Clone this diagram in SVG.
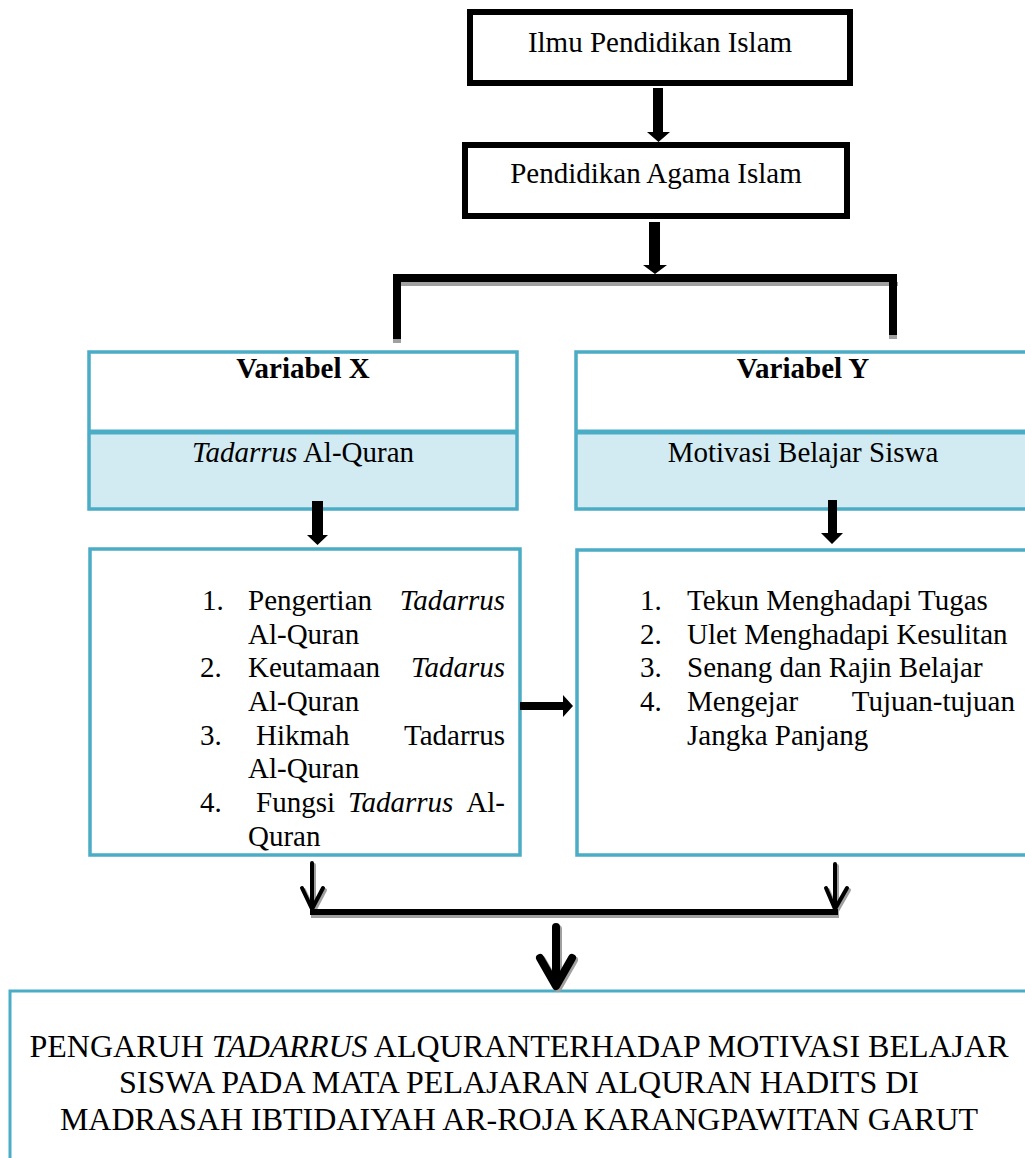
<svg xmlns="http://www.w3.org/2000/svg" width="1025" height="1158" viewBox="0 0 1025 1158">
<style>
text{font-family:"Liberation Serif","Times New Roman",serif;font-size:29px;fill:#000}
.c{text-anchor:middle}
.e{text-anchor:end}
.b{font-weight:bold}
.i{font-style:italic}
.big{font-size:32px}
.blk{fill:none;stroke:#000;stroke-width:6}
.teal{fill:none;stroke:#4BACC6;stroke-width:3.5}
.shade{fill:#D2EAF1}
.sh{fill:#A0A0A0}
.ln{fill:none;stroke:#000;stroke-linecap:round;stroke-linejoin:round}
.lns{fill:none;stroke:#A0A0A0;stroke-linecap:round;stroke-linejoin:round}
</style>
<rect width="1025" height="1158" fill="#fff"/>

<g id="node-ilmu">
<rect class="blk" x="470" y="12" width="380" height="71"/>
<text class="c" x="660" y="52">Ilmu Pendidikan Islam</text>
</g>

<g id="node-pai">
<rect class="blk" x="465" y="145" width="382" height="71"/>
<text class="c" x="656" y="183">Pendidikan Agama Islam</text>
</g>

<g id="node-varx">
<rect class="shade" x="89" y="432" width="428" height="78"/>
<rect class="teal" x="89" y="352" width="428" height="157"/>
<line x1="89" y1="432" x2="517" y2="432" stroke="#4BACC6" stroke-width="5"/>
<text class="c b" x="303" y="378">Variabel X</text>
<text class="c" x="303" y="462"><tspan class="i">Tadarrus</tspan> Al-Quran</text>
</g>

<g id="node-vary">
<rect class="shade" x="576" y="432" width="460" height="78"/>
<rect class="teal" x="576" y="352" width="460" height="157"/>
<line x1="576" y1="432" x2="1036" y2="432" stroke="#4BACC6" stroke-width="5"/>
<text class="c b" x="803" y="378">Variabel Y</text>
<text class="c" x="803" y="462">Motivasi Belajar Siswa</text>
</g>

<g id="node-listx">
<rect class="teal" x="90" y="549" width="430" height="306"/>
<text x="202" y="610">1.</text><text x="248" y="610">Pengertian</text><text class="e i" x="505" y="610">Tadarrus</text>
<text x="248" y="644">Al-Quran</text>
<text x="200" y="677">2.</text><text x="248" y="677">Keutamaan</text><text class="e i" x="505" y="677">Tadarus</text>
<text x="248" y="711">Al-Quran</text>
<text x="200" y="745">3.</text><text x="256" y="745">Hikmah</text><text class="e" x="505" y="745">Tadarrus</text>
<text x="248" y="778">Al-Quran</text>
<text x="200" y="812">4.</text><text x="256" y="812">Fungsi</text><text class="i" x="348" y="812">Tadarrus</text><text class="e" x="505" y="812">Al-</text>
<text x="248" y="846">Quran</text>
</g>

<g id="node-listy">
<rect class="teal" x="577" y="550" width="460" height="305"/>
<text x="640" y="610">1.</text><text x="687" y="610">Tekun Menghadapi Tugas</text>
<text x="640" y="644">2.</text><text x="687" y="644">Ulet Menghadapi Kesulitan</text>
<text x="640" y="677">3.</text><text x="687" y="677">Senang dan Rajin Belajar</text>
<text x="640" y="711">4.</text><text x="687" y="711">Mengejar</text><text class="e" x="1015" y="711">Tujuan-tujuan</text>
<text x="687" y="745">Jangka Panjang</text>
</g>

<g id="node-result">
<rect fill="none" stroke="#4BACC6" stroke-width="3" x="10" y="991" width="1040" height="200"/>
<text class="c big" x="519" y="1057">PENGARUH <tspan class="i">TADARRUS</tspan> ALQURANTERHADAP MOTIVASI BELAJAR</text>
<text class="c big" x="519" y="1093">SISWA PADA MATA PELAJARAN ALQURAN HADITS DI</text>
<text class="c big" x="519" y="1130">MADRASAH IBTIDAIYAH AR-ROJA KARANGPAWITAN GARUT</text>
</g>

<g id="connectors">
<!-- block arrows -->
<path d="M653 88H663V132H670L658.5 142L647 132H653Z" fill="#000"/>
<path d="M649 222H660V265H667L655 274L643 265H649Z" fill="#000"/>
<path d="M312 501H323V535H328L317.5 545L307 535H312Z" fill="#000"/>
<path d="M828 500H837V533H843L832 544L821 533H828Z" fill="#000"/>
<path d="M520 702H563V695L573 706L563 717V710H520Z" fill="#000"/>
<!-- top split -->
<rect class="sh" x="394" y="282" width="504" height="4"/>
<rect class="sh" x="393" y="338" width="8" height="5"/>
<rect class="sh" x="889" y="334" width="8" height="5"/>
<rect x="393" y="274" width="504" height="8" fill="#000"/>
<rect x="393" y="274" width="8" height="65" fill="#000"/>
<rect x="889" y="274" width="8" height="61" fill="#000"/>
<!-- bottom merge -->
<path class="lns" stroke-width="4" d="M314 865V911M304 890L314 911L325 890"/>
<path class="lns" stroke-width="4" d="M837 866V911M828 890L837 911L849 890"/>
<path class="ln" stroke-width="4" d="M312 863V909M302 888L312 909L323 888"/>
<path class="ln" stroke-width="4" d="M835 864V909M826 888L835 909L847 888"/>
<rect class="sh" x="311" y="912" width="528" height="6"/>
<rect x="310" y="909" width="528" height="6" fill="#000"/>
<path class="lns" stroke-width="8" d="M558 929V986M542 960L558 988L574 960"/>
<path class="ln" stroke-width="8" d="M556 927V984M540 958L556 986L572 958"/>
</g>
</svg>
